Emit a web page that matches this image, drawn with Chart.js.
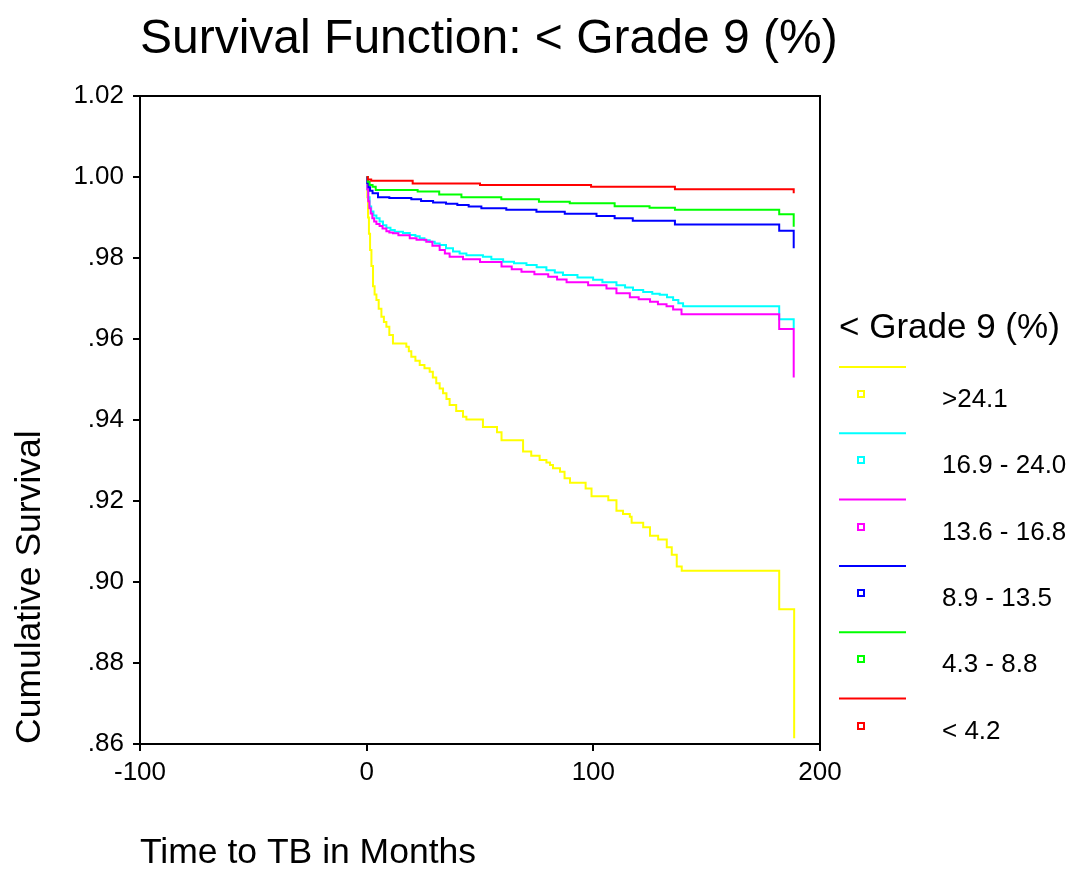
<!DOCTYPE html>
<html>
<head>
<meta charset="utf-8">
<script src="https://cdn.jsdelivr.net/npm/chart.js@4.4.1/dist/chart.umd.min.js"></script>
<style>
  body { margin: 0; background: #fff; }
  #wrap { width: 1073px; height: 871px; }
</style>
</head>
<body>
<div id="wrap"><canvas id="chartSurv" width="1073" height="871"></canvas></div>
<script>
// ==========================================
// 1. DATA
// ==========================================
const chartTitle = 'Survival Function: < Grade 9 (%)';
const legendTitle = '< Grade 9 (%)';
const groupLabels = ['>24.1', '16.9 - 24.0', '13.6 - 16.8', '8.9 - 13.5', '4.3 - 8.8', '< 4.2'];
const groupColors = ['#ffff00', '#00ffff', '#ff00ff', '#0000ff', '#00ff00', '#ff0000'];

const timeYellow = [0, 0.3, 0.6, 1.0, 1.5, 2.1, 2.8, 3.5, 4.3, 5.3, 6.5, 7.6, 8.7, 10.0, 11.6, 17.5, 18.6, 19.7, 21.5, 23.4, 25.5, 27.8, 29.2, 30.7, 32.2, 33.7, 35.2, 36.6, 39.5, 42.5, 44.0, 51.3, 57.5, 59.5, 69.0, 72.6, 76.3, 79.3, 80.9, 82.2, 85.3, 87.3, 89.7, 96.6, 99.2, 106.6, 110.2, 113.1, 116.1, 116.9, 122.0, 125.0, 128.6, 132.4, 134.6, 136.8, 139.0, 182.0, 188.6];
const survYellow = [1, .995, .990, .986, .982, .978, .973, .971, .9696, .9675, .9655, .9642, .9630, .961, .9589, .9581, .957, .9556, .9546, .9536, .9528, .9519, .9505, .9491, .9478, .9466, .9452, .9437, .9422, .9408, .9401, .9383, .9370, .9350, .9322, .9312, .9301, .9295, .9289, .9281, .9272, .9256, .9245, .9231, .9212, .9202, .9176, .9168, .9161, .9146, .9135, .9114, .9105, .9086, .9067, .9038, .9028, .8933, .8614];

const timeCyan = [0, 0.3, 0.7, 1.3, 2.0, 3.0, 4.3, 5.7, 7.2, 8.7, 10.5, 12.4, 16.0, 19.0, 21.5, 23.4, 25.5, 27.8, 30.0, 32.2, 35.0, 38.1, 41.0, 44.0, 51.3, 55.0, 60.2, 65.0, 70.5, 75.0, 79.3, 83.0, 86.6, 93.0, 99.9, 104.0, 110.2, 114.0, 117.5, 122.0, 126.0, 129.3, 132.5, 135.2, 137.5, 139.6, 182.0, 188.4];
const survCyan = [1, .997, .995, .9927, .9915, .9905, .9898, .9890, .9881, .9875, .9869, .9865, .9862, .9857, .9854, .9849, .9844, .9840, .9836, .9832, .9824, .9816, .9811, .9807, .9803, .9797, .9791, .9787, .9783, .9777, .9770, .9764, .9758, .9752, .9746, .9740, .9733, .9727, .9721, .9716, .9712, .9709, .9703, .9696, .9688, .9681, .9649, .9627];

const timeMagenta = [0, 0.3, 0.7, 1.2, 1.8, 2.5, 3.3, 4.3, 5.7, 7.0, 8.7, 10.0, 11.6, 14.0, 19.0, 22.0, 26.3, 29.0, 32.2, 34.5, 36.6, 42.5, 50.0, 59.5, 64.0, 68.3, 74.0, 80.1, 84.0, 88.2, 97.7, 105.8, 110.2, 116.1, 120.0, 125.0, 128.5, 132.3, 135.2, 138.9, 182.0, 188.4];
const survMagenta = [1, .997, .994, .9923, .9910, .9898, .9890, .9884, .9879, .9873, .9866, .9863, .9861, .9856, .9849, .9845, .9840, .9830, .9820, .9811, .9803, .9797, .9790, .9779, .9772, .9766, .9760, .9754, .9747, .9740, .9733, .9725, .9713, .9703, .9698, .9692, .9686, .9681, .9673, .9661, .9625, .9505];

const timeBlue = [0, 0.3, 0.8, 1.5, 2.6, 5.0, 10.0, 19.7, 24.0, 29.3, 35.0, 40.0, 45.0, 50.6, 61.6, 74.9, 87.4, 101.4, 109.4, 117.4, 136.0, 182.0, 188.4];
const survBlue = [1, .9985, .9975, .9966, .9960, .9950, .9948, .9945, .9941, .9937, .9934, .9931, .9927, .9923, .9919, .9914, .9909, .9904, .9898, .9892, .9883, .9867, .9824];

const timeGreen = [0, 0.5, 1.3, 2.6, 4.0, 22.5, 32.0, 41.8, 59.4, 76.0, 89.6, 109.4, 124.8, 136.0, 182.0, 188.4];
const survGreen = [1, .9988, .998, .9976, .9968, .9964, .9957, .9950, .9945, .9939, .9935, .9928, .9924, .9919, .9908, .9877];

const timeRed = [0, 0.5, 2.0, 20.3, 50.0, 99.0, 136.0, 188.4];
const survRed = [1, .9994, .9991, .9984, .9980, .9976, .9970, .9960];

const xTicks = { min: -100, max: 200, step: 100 };
const yTicks = { min: 0.86, max: 1.02, step: 0.02 };

// ==========================================
// 2. HELPERS
// ==========================================
const fontFam = "'Liberation Sans', Arial, sans-serif";
const toPoints = (t, s) => t.map((v, i) => ({ x: v, y: s[i] }));
const series = [
    toPoints(timeYellow, survYellow),
    toPoints(timeCyan, survCyan),
    toPoints(timeMagenta, survMagenta),
    toPoints(timeBlue, survBlue),
    toPoints(timeGreen, survGreen),
    toPoints(timeRed, survRed)
];

// frame on top and right like the SPSS box, plus the big title (no width squeeze)
const framePlugin = {
    id: 'frame',
    afterDraw(chart) {
        const { ctx, chartArea: a } = chart;
        ctx.save();
        ctx.strokeStyle = '#000';
        ctx.lineWidth = 2;
        ctx.beginPath();
        ctx.moveTo(a.left - 7, a.top);
        ctx.lineTo(a.right, a.top);
        ctx.lineTo(a.right, a.bottom);
        ctx.stroke();

        ctx.fillStyle = '#000';
        ctx.font = '48px ' + fontFam;
        ctx.textAlign = 'left';
        ctx.textBaseline = 'alphabetic';
        ctx.fillText(chartTitle, a.left, 53);
        ctx.restore();
    }
};

// right side legend: title, line sample, small square, label
const legendPlugin = {
    id: 'spssLegend',
    afterDraw(chart) {
        const ctx = chart.ctx;
        const a = chart.chartArea;
        const x0 = a.right + 19;
        ctx.save();
        ctx.fillStyle = '#000';
        ctx.font = '35px ' + fontFam;
        ctx.textBaseline = 'alphabetic';
        ctx.textAlign = 'left';
        ctx.fillText(legendTitle, x0, 338);
        chart.data.datasets.forEach((ds, i) => {
            const yl = 367 + i * 66.3;
            ctx.strokeStyle = ds.borderColor;
            ctx.lineWidth = 2;
            ctx.beginPath();
            ctx.moveTo(x0, yl);
            ctx.lineTo(x0 + 67, yl);
            ctx.stroke();
            const cy = Math.round(394 + i * 66.3);
            ctx.strokeRect(x0 + 19, cy - 3, 6, 6);
            ctx.fillStyle = '#000';
            ctx.font = '26px ' + fontFam;
            ctx.textBaseline = 'middle';
            ctx.fillText(ds.label, x0 + 103, 400 + i * 66.3);
        });
        ctx.restore();
    }
};

// ==========================================
// 3. CHART
// ==========================================
const ctxSurv = document.getElementById('chartSurv').getContext('2d');
new Chart(ctxSurv, {
    type: 'line',
    data: {
        datasets: series.map((pts, i) => ({
            label: groupLabels[i],
            data: pts,
            borderColor: groupColors[i],
            borderWidth: 2,
            pointRadius: 0,
            stepped: true,
            fill: false,
            order: groupLabels.length - i
        }))
    },
    options: {
        responsive: false,
        animation: false,
        layout: { padding: { top: 96, left: 0, right: 253, bottom: 0 } },
        plugins: {
            legend: { display: false },
            tooltip: { enabled: false },
            title: { display: false }
        },
        scales: {
            x: {
                type: 'linear',
                min: xTicks.min, max: xTicks.max,
                afterFit: s => { s.height = 127; },
                ticks: { stepSize: xTicks.step, color: '#000', padding: 6, font: { family: fontFam, size: 26 } },
                grid: { drawOnChartArea: false, drawTicks: true, tickLength: 7, color: '#000', lineWidth: 2 },
                border: { display: true, color: '#000', width: 2 },
                title: {
                    display: true, text: 'Time to TB in Months', align: 'start', color: '#000',
                    font: { family: fontFam, size: 35.5, lineHeight: 1 }, padding: { top: 0, bottom: 0 }
                }
            },
            y: {
                type: 'linear',
                min: yTicks.min, max: yTicks.max,
                afterFit: s => { s.width = 140; },
                ticks: {
                    stepSize: yTicks.step, color: '#000', padding: 9, font: { family: fontFam, size: 26 },
                    callback: v => { const t = v.toFixed(2); return t.startsWith('0') ? t.slice(1) : t; }
                },
                grid: { drawOnChartArea: false, drawTicks: true, tickLength: 7, color: '#000', lineWidth: 2 },
                border: { display: true, color: '#000', width: 2 },
                title: {
                    display: true, text: 'Cumulative Survival', align: 'start', color: '#000',
                    font: { family: fontFam, size: 35.5, lineHeight: 1 }, padding: { top: 12, bottom: 0 }
                }
            }
        }
    },
    plugins: [framePlugin, legendPlugin]
});
</script>
</body>
</html>
